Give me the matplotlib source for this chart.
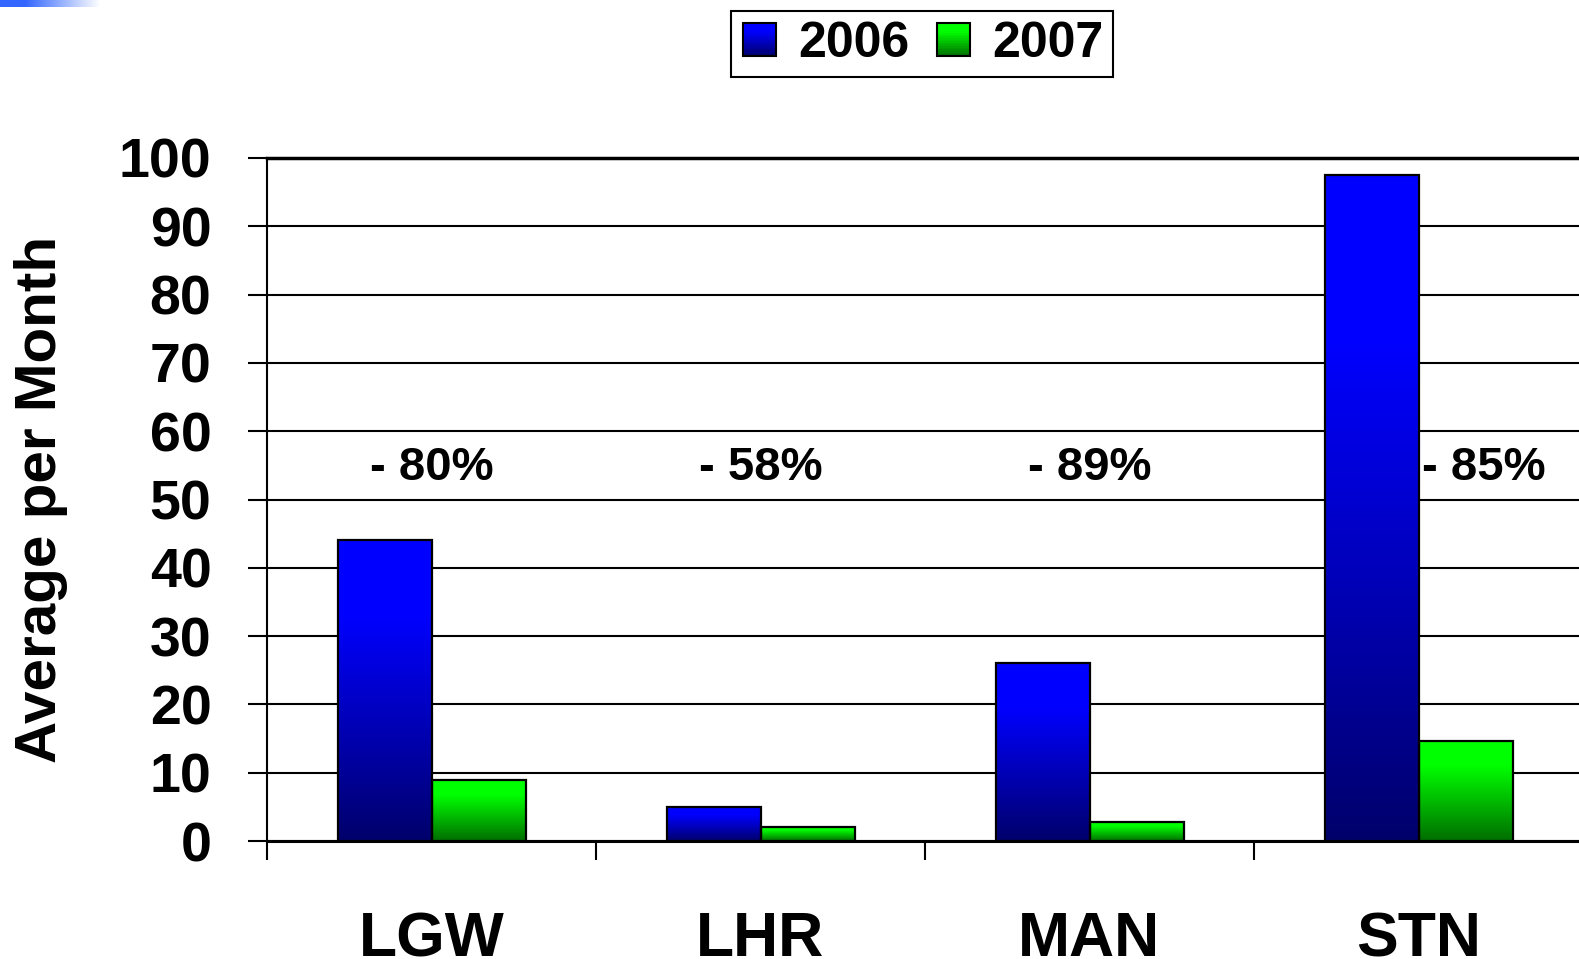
import numpy as np
import matplotlib.pyplot as plt
from matplotlib.patches import Rectangle
from matplotlib.legend_handler import HandlerBase
from matplotlib.colors import LinearSegmentedColormap

# data
airports = ['LGW', 'LHR', 'MAN', 'STN']
series = ['2006', '2007']
avg_2006 = [44, 5, 26, 97.5]
avg_2007 = [9, 2.1, 2.8, 14.7]
changes = ['- 80%', '- 58%', '- 89%', '- 85%']

plt.rcParams['font.family'] = ['Liberation Sans', 'DejaVu Sans']
plt.rcParams['font.weight'] = 'bold'

W, H = 1579, 959
fig = plt.figure(figsize=(W / 100, H / 100), dpi=100)

# gradient colormaps: bright at top, dark at bottom
blue_cm = LinearSegmentedColormap.from_list(
    'bl', [(0.0, (0, 0, 0.42)), (0.75, (0, 0, 1.0)), (1.0, (0, 0, 1.0))])
green_cm = LinearSegmentedColormap.from_list(
    'gr', [(0.0, (0, 0.43, 0)), (0.75, (0, 1.0, 0)), (1.0, (0, 1.0, 0))])
cmaps = [blue_cm, green_cm]

ax_left, ax_bot, ax_top = 267, 841, 158
cat_w = 329
ax = fig.add_axes([ax_left / W, 1 - ax_bot / H, 4 * cat_w / W, (ax_bot - ax_top) / H])

x = np.arange(len(airports))
bw = 94 / cat_w
grad = np.linspace(0, 1, 256).reshape(-1, 1)
for j, vals in enumerate([avg_2006, avg_2007]):
    bars = ax.bar(x + (j - 0.5) * bw, vals, width=bw, facecolor='none',
                  edgecolor='black', linewidth=1.6, zorder=4)
    for b in bars:
        x0, w, h = b.get_x(), b.get_width(), b.get_height()
        ax.imshow(grad, cmap=cmaps[j], origin='lower', aspect='auto',
                  extent=[x0, x0 + w, 0, h], zorder=3)
ax.set_xlim(-0.5, 3.5)
ax.set_ylim(0, 100)

# percentage change labels
offs = [0, 0, 0, 0.2]
for i, t in enumerate(changes):
    ax.text(i + offs[i], 54.6, t, ha='center', va='center', fontsize=34,
            fontweight='bold', zorder=5)

ax.set_yticks(np.arange(0, 101, 10))
ax.yaxis.grid(True, color='black', linewidth=1.5)
ax.set_axisbelow(True)
ax.tick_params(axis='y', length=14, width=1.5, pad=26, labelsize=40)
ax.set_xticks(np.arange(-0.5, 3.6, 1))
ax.set_xticklabels([])
ax.set_xticks(x, minor=True)
ax.set_xticklabels(airports, minor=True, fontsize=45, fontweight='bold')
ax.tick_params(axis='x', which='major', length=14, width=1.5)
ax.tick_params(axis='x', which='minor', length=0, pad=50)
for lab in ax.get_yticklabels():
    lab.set_fontweight('bold')
ax.spines['top'].set_linewidth(2.5)
ax.spines['bottom'].set_linewidth(2.2)
ax.spines['left'].set_linewidth(1.5)
ax.spines['right'].set_visible(False)
ax.set_ylabel('Average per Month', fontsize=42, fontweight='bold')
ax.yaxis.set_label_coords((68 - ax_left) / (4 * cat_w), 0.5)


class GradHandler(HandlerBase):
    def __init__(self, cmap):
        super().__init__()
        self.cmap = cmap

    def create_artists(self, legend, orig_handle, xdescent, ydescent,
                       width, height, fontsize, trans):
        s = min(width, height * 0.95)
        x0 = -xdescent + (width - s) / 2
        y0 = -ydescent + (height - s) / 2
        arts = []
        n = 20
        for k in range(n):
            arts.append(Rectangle((x0, y0 + s * k / n), s, s / n + 0.3,
                                  facecolor=self.cmap((k + 0.5) / n),
                                  edgecolor='none', transform=trans))
        arts.append(Rectangle((x0, y0), s, s, facecolor='none',
                              edgecolor='black', linewidth=1.5, transform=trans))
        return arts


h1 = Rectangle((0, 0), 1, 1)
h2 = Rectangle((0, 0), 1, 1)
leg = fig.legend([h1, h2], series, loc='center',
                 bbox_to_anchor=(922 / W, 1 - 44 / H), ncol=2,
                 prop={'size': 36, 'weight': 'bold'},
                 handler_map={h1: GradHandler(blue_cm), h2: GradHandler(green_cm)},
                 fancybox=False, edgecolor='black', framealpha=1,
                 handlelength=0.75, handletextpad=0.4, columnspacing=0.5,
                 borderpad=0.2)
leg.get_frame().set_linewidth(1.5)

# slide decoration top-left
deco = fig.add_axes([0, 1 - 7 / H, 100 / W, 7 / H])
deco.axis('off')
fade = LinearSegmentedColormap.from_list(
    'fd', [(0.0, (0.2, 0.4, 1.0)), (0.25, (0.2, 0.4, 1.0)), (1.0, (1, 1, 1))])
deco.imshow(np.linspace(0, 1, 256).reshape(1, -1), cmap=fade, aspect='auto')

fig.savefig('out.png', dpi=100)
